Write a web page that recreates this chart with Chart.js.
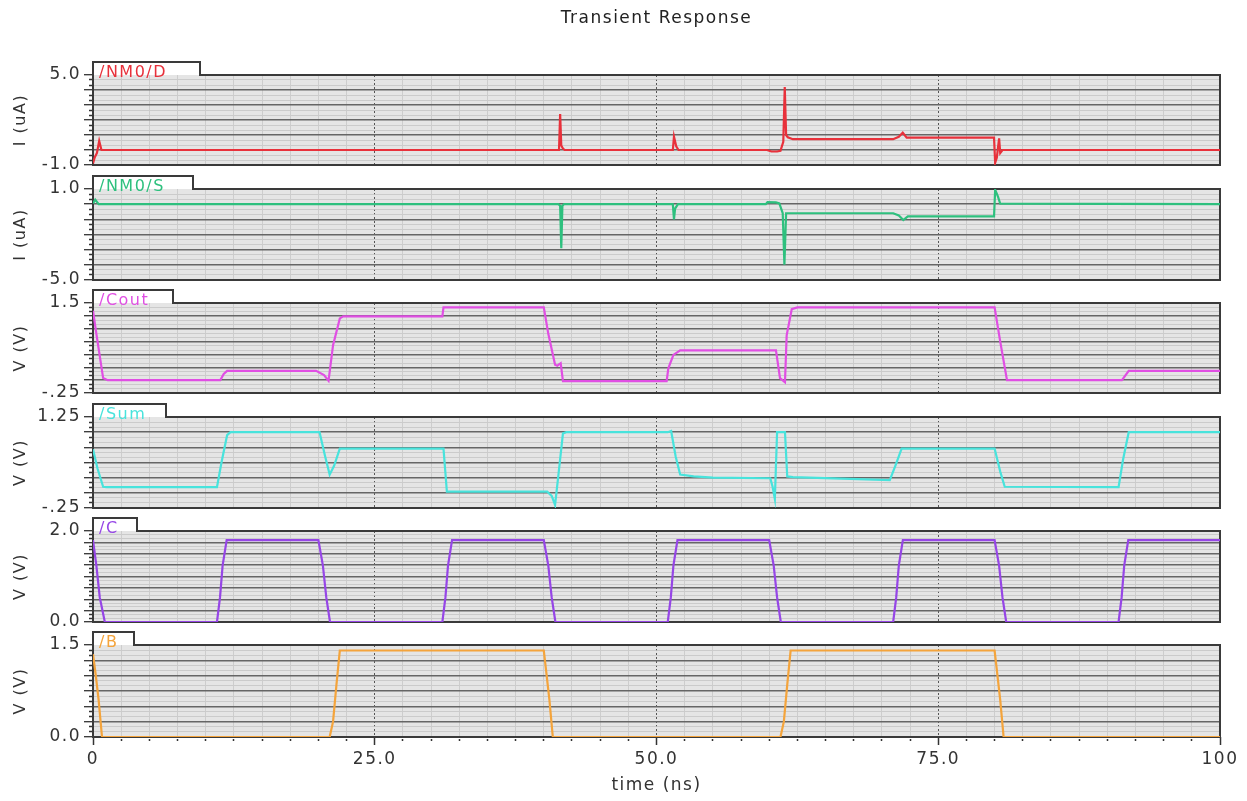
<!DOCTYPE html>
<html>
<head>
<meta charset="utf-8">
<title>Transient Response</title>
<script src="https://cdn.jsdelivr.net/npm/chart.js@4.4.1/dist/chart.umd.min.js"></script>
<style>
  body { margin: 0; background: #fff; }
  #wrap { position: relative; width: 1247px; height: 801px; overflow: hidden; }
  #wrap canvas { position: absolute; left: 0; }
</style>
</head>
<body>
<div id="wrap"></div>
<script>
// eje x (ns)
const xTickValues = [0, 25, 50, 75, 100];
const xTickLabels = ['0', '25.0', '50.0', '75.0', '100'];

// /NM0/D (uA)
const tD = [0, 0.15, 0.35, 0.55, 0.75, 41.35, 41.45, 41.55, 41.7, 41.85, 51.45, 51.55, 51.75, 51.95,
  59.8, 60.2, 60.7, 61.0, 61.25, 61.38, 61.5, 61.65, 62.1, 71.0, 71.5, 71.85, 72.2,
  79.95, 80.05, 80.2, 80.4, 80.5, 80.7, 100];
const vD = [-0.9, -0.5, -0.2, 0.6, 0, 0, 2.4, 0.3, 0.1, 0, 0, 0.9, 0.25, 0,
  0, -0.1, -0.1, -0.05, 0.55, 4.2, 1.0, 0.85, 0.72, 0.72, 0.88, 1.15, 0.82,
  0.82, -0.85, -0.5, 0.78, -0.2, 0, 0];

// /NM0/S (uA)
const tS = [0, 0.2, 0.5, 41.3, 41.45, 41.55, 41.65, 41.8, 51.45, 51.55, 51.65, 51.9,
  59.7, 59.85, 60.6, 60.9, 61.2, 61.35, 61.5, 61.8, 71.0, 71.5, 71.9, 72.3,
  79.95, 80.05, 80.3, 80.5, 100];
const vS = [0.05, 0.3, 0, 0, -0.1, -2.9, -0.1, 0, 0, -1.0, -0.3, 0,
  0, 0.13, 0.12, 0.05, -0.6, -4.0, -0.6, -0.6, -0.6, -0.75, -1.05, -0.8,
  -0.8, 0.95, 0.5, 0.03, 0];

// /Cout (V)
const tCout = [0, 0.3, 0.9, 1.3, 11.3, 11.6, 11.9, 19.8, 20.5, 20.9, 21.3, 21.9, 22.2, 31.0, 31.1,
  40.0, 40.4, 41.0, 41.2, 41.5, 41.7, 50.9, 51.05, 51.5, 52.1, 60.6, 60.96, 61.4, 61.55, 62.0, 62.5,
  80.0, 80.5, 81.1, 91.3, 91.9, 100];
const vCout = [1.35, 0.9, 0.04, 0, 0, 0.12, 0.18, 0.18, 0.1, -0.01, 0.68, 1.2, 1.24, 1.24, 1.415,
  1.415, 0.9, 0.3, 0.28, 0.33, -0.02, -0.02, 0.23, 0.49, 0.58, 0.58, 0.04, -0.04, 0.87, 1.38, 1.415,
  1.415, 0.75, 0, 0, 0.18, 0.18];

// /Sum (V)
const tSum = [0, 0.4, 0.9, 1.2, 11.0, 11.4, 11.9, 12.2, 20.1, 20.6, 21.0, 21.4, 21.9, 31.1, 31.4,
  40.3, 40.7, 41.0, 41.3, 41.7, 42.0, 51.0, 51.3, 51.7, 52.1, 53.3, 55.0,
  60.1, 60.3, 60.5, 60.7, 61.4, 61.6, 62.1, 70.7, 71.2, 71.75, 80.0, 80.5, 80.9, 91.0, 91.4, 91.9, 100];
const vSum = [0.72, 0.4, 0.1, 0.094, 0.094, 0.5, 0.95, 1.0, 1.0, 0.6, 0.3, 0.45, 0.73, 0.73, 0.02,
  0.02, -0.05, -0.2, 0.3, 0.98, 1.0, 1.0, 1.02, 0.6, 0.3, 0.27, 0.25,
  0.24, 0.1, -0.1, 1.0, 1.0, 0.27, 0.26, 0.21, 0.45, 0.73, 0.73, 0.35, 0.1, 0.094, 0.55, 1.0, 1.0];

// /C (V)
const tC = [0, 0.3, 0.6, 1.05, 11.0, 11.27, 11.5, 11.86, 20.0, 20.4, 20.7, 21.03,
  31.0, 31.27, 31.5, 31.86, 40.0, 40.4, 40.7, 41.03, 51.0, 51.27, 51.5, 51.86,
  60.0, 60.4, 60.7, 61.03, 71.0, 71.27, 71.5, 71.86, 80.0, 80.4, 80.7, 81.03,
  91.0, 91.27, 91.5, 91.86, 100];
const vC = [1.8, 1.24, 0.54, 0, 0, 0.54, 1.24, 1.8, 1.8, 1.24, 0.54, 0,
  0, 0.54, 1.24, 1.8, 1.8, 1.24, 0.54, 0, 0, 0.54, 1.24, 1.8,
  1.8, 1.24, 0.54, 0, 0, 0.54, 1.24, 1.8, 1.8, 1.24, 0.54, 0,
  0, 0.54, 1.24, 1.8, 1.8];

// /B (V)
const tB = [0, 0.25, 0.5, 0.8, 21.0, 21.3, 21.6, 21.9, 40.0, 40.2, 40.5, 40.8,
  61.0, 61.3, 61.6, 61.9, 80.0, 80.2, 80.5, 80.8, 100];
const vB = [1.35, 1.0, 0.6, 0, 0, 0.25, 0.85, 1.41, 1.41, 1.09, 0.6, 0,
  0, 0.25, 0.85, 1.41, 1.41, 1.09, 0.6, 0, 0];

// paneles
const names = ['/NM0/D', '/NM0/S', '/Cout', '/Sum', '/C', '/B'];
const units = ['I (uA)', 'I (uA)', 'V (V)', 'V (V)', 'V (V)', 'V (V)'];
const times = [tD, tS, tCout, tSum, tC, tB];
const values = [vD, vS, vCout, vSum, vC, vB];
const yMin = [-1, -5, -0.25, -0.25, 0, 0];
const yMax = [5, 1, 1.5, 1.25, 2, 1.5];
const yStep = [1, 1, 0.25, 0.25, 0.25, 0.25];
const yLabelLow = ['-1.0', '-5.0', '-.25', '-.25', '0.0', '0.0'];
const yLabelHigh = ['5.0', '1.0', '1.5', '1.25', '2.0', '1.5'];

// estilo / posicion
const colores = ['#e8313b', '#2ec07e', '#e04fe3', '#48e3dc', '#9646e6', '#f4a43c'];
const tabAncho = [107, 100, 80, 73, 44, 41];
const panelTop = [75, 189, 303, 417, 531, 645];
const panelBottom = [165, 280, 393, 508, 622, 737];
const FONT = 'DejaVu Sans';

const panelDeco = {
  id: 'panelDeco',
  beforeDraw(chart, args, opts) {
    const { ctx, chartArea: a } = chart;
    // el canvas se reinicia al dimensionar, por eso se pone aqui
    ctx.letterSpacing = '1.5px';
    ctx.save();
    ctx.fillStyle = '#e5e5e5';
    ctx.fillRect(a.left, a.top, a.right - a.left, a.bottom - a.top);
    ctx.fillStyle = '#ffffff';
    ctx.fillRect(a.left, a.top - 13, opts.tabW, 13);
    ctx.restore();
  },
  beforeDatasetsDraw(chart, args, opts) {
    const { ctx, chartArea: a } = chart;
    ctx.save();
    ctx.strokeStyle = '#3a3a3a';
    ctx.lineWidth = 2;
    ctx.beginPath();
    ctx.moveTo(a.left + opts.tabW, a.top);
    ctx.lineTo(a.right, a.top);
    ctx.lineTo(a.right, a.bottom);
    ctx.lineTo(a.left, a.bottom);
    ctx.lineTo(a.left, a.top - 13);
    ctx.lineTo(a.left + opts.tabW, a.top - 13);
    ctx.closePath();
    ctx.stroke();
    ctx.fillStyle = opts.color;
    ctx.font = '16px "' + FONT + '"';
    ctx.textBaseline = 'alphabetic';
    ctx.fillText(opts.label, a.left + 6, a.top + 2);
    ctx.restore();
  }
};

const wrap = document.getElementById('wrap');

function crearPanel(i) {
  const first = i === 0;
  const last = i === 5;
  const top = panelTop[i];
  const bottom = panelBottom[i];
  const canvasTop = first ? 0 : top - 40;
  const canvasH = last ? 801 - canvasTop : (bottom - canvasTop) + 14;

  const cv = document.createElement('canvas');
  cv.width = 1247;
  cv.height = canvasH;
  cv.style.top = canvasTop + 'px';
  wrap.appendChild(cv);

  const puntos = times[i].map((t, k) => ({ x: t, y: values[i][k] }));
  const nTicks = Math.round((yMax[i] - yMin[i]) / yStep[i] * 3);

  return new Chart(cv, {
    type: 'line',
    data: {
      datasets: [{
        data: puntos,
        borderColor: colores[i],
        borderWidth: 2.2,
        pointRadius: 0,
        tension: 0,
        fill: false
      }]
    },
    options: {
      responsive: false,
      devicePixelRatio: 1,
      animation: false,
      layout: { padding: { left: 0, right: 27, top: first ? 0 : 40, bottom: last ? 0 : 14 } },
      plugins: {
        legend: { display: false },
        tooltip: { enabled: false },
        title: {
          display: first,
          text: 'Transient Response',
          fullSize: false,
          color: '#222',
          font: { family: FONT, size: 17, weight: 'normal', lineHeight: 1.2 },
          padding: { top: 8, bottom: 75 - 8 - 17 * 1.2 }
        },
        panelDeco: { tabW: tabAncho[i], label: names[i], color: colores[i] }
      },
      scales: {
        x: {
          type: 'linear',
          min: 0,
          max: 100,
          afterFit: (s) => { s.height = last ? 64 : 0; },
          ticks: {
            display: last,
            stepSize: 2.5,
            autoSkip: false,
            maxRotation: 0,
            padding: 4,
            color: '#333',
            font: { family: FONT, size: 17 },
            callback: (v) => {
              const k = xTickValues.indexOf(v);
              return k >= 0 ? xTickLabels[k] : '';
            }
          },
          grid: {
            drawTicks: last,
            tickLength: 8,
            tickWidth: 1.5,
            tickColor: '#333',
            tickBorderDash: (c) => (c.tick.value % 25 === 0 ? [] : [0, 2, 2, 100]),
            color: (c) => {
              const v = c.tick.value;
              if (v === 0 || v === 100) return 'rgba(0,0,0,0)';
              return v % 25 === 0 ? '#555' : '#cdcdcd';
            },
            lineWidth: 1
          },
          border: {
            display: false,
            dash: (c) => (c.tick && c.tick.value % 25 === 0 ? [2, 2] : [])
          },
          title: {
            display: last,
            text: 'time (ns)',
            color: '#333',
            font: { family: FONT, size: 17 },
            padding: { top: 0, bottom: 5 }
          }
        },
        y: {
          type: 'linear',
          min: yMin[i],
          max: yMax[i],
          afterFit: (s) => { s.width = 93; },
          afterBuildTicks: (s) => {
            const lista = [];
            for (let k = 0; k <= nTicks; k++) lista.push({ value: yMin[i] + k * yStep[i] / 3 });
            s.ticks = lista;
          },
          ticks: {
            autoSkip: false,
            padding: 3,
            color: '#333',
            font: { family: FONT, size: 17 },
            callback: (v, idx) => (idx === 0 ? yLabelLow[i] : idx === nTicks ? yLabelHigh[i] : '')
          },
          grid: {
            drawTicks: true,
            tickLength: 9,
            tickColor: '#333',
            tickWidth: 1.3,
            tickBorderDash: (c) => (c.index % 3 === 0 ? [] : [0, 5, 4, 100]),
            color: (c) => {
              if (c.index === nTicks) return 'rgba(0,0,0,0)';
              return c.index % 3 === 0 ? '#666' : '#cbcbcb';
            },
            lineWidth: (c) => (c.index % 3 === 0 ? 1.4 : 1)
          },
          border: { display: false },
          title: {
            display: true,
            text: units[i],
            color: '#333',
            font: { family: FONT, size: 16 },
            padding: { top: 11, bottom: 0 }
          }
        }
      }
    },
    plugins: [panelDeco]
  });
}

for (let i = 0; i < 6; i++) crearPanel(i);
</script>
</body>
</html>
